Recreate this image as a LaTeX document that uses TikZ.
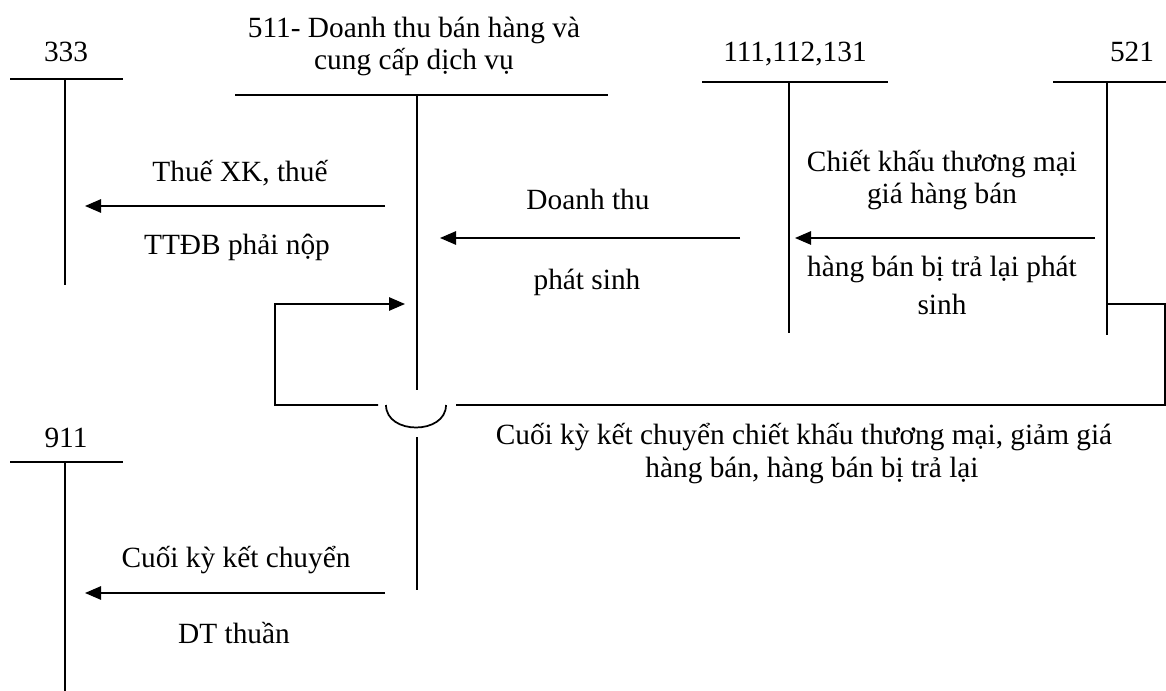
\documentclass[tikz,border=0pt]{standalone}
\usepackage{fontspec}
\setmainfont{Liberation Serif}
\usepackage{tikz}
\usetikzlibrary{arrows.meta,positioning,calc}

\begin{document}
\begin{tikzpicture}[
  x=0.75pt, y=-0.75pt,
  ledger/.style={line width=1.3pt},
  arrow/.style={-{Triangle[length=12pt, width=10pt]}, line width=1.3pt},
  lbl/.style={anchor=base, inner sep=0pt, font=\fontsize{22}{27}\selectfont}
]
\useasboundingbox (0,0) rectangle (1166,691);

% T-accounts
\draw[ledger] (10,79) -- (123,79);
\draw[ledger] (65,79) -- (65,285);
\draw[ledger] (235,95) -- (608,95);
\draw[ledger] (417,95) -- (417,390);
\draw[ledger] (417,437) -- (417,590);
\draw[ledger] (702,82) -- (888,82);
\draw[ledger] (789,82) -- (789,333);
\draw[ledger] (1053,82) -- (1166,82);
\draw[ledger] (1107,82) -- (1107,335);
\draw[ledger] (10,462) -- (123,462);
\draw[ledger] (65,462) -- (65,691);

% Account names
\node[lbl] (acc333) at (66,62) {333};
\node[lbl] (acc511a) at (414,38) {511- Doanh thu bán hàng và};
\node[lbl] (acc511b) at (414,70) {cung cấp dịch vụ};
\node[lbl] (acc111) at (795,62) {111,112,131};
\node[lbl] (acc521) at (1132,62) {521};
\node[lbl] (acc911) at (66,447) {911};

% Arrow ends
\coordinate (s511a) at (385,206);
\coordinate (e333) at (85,206);
\coordinate (s111) at (740,238);
\coordinate (e511a) at (440,238);
\coordinate (s521) at (1095,238);
\coordinate (e111) at (795,238);
\coordinate (s511b) at (385,593);
\coordinate (e911) at (85,593);
\coordinate (o521) at (1107,304);
\coordinate (e511b) at (405,304);

% Postings
\draw[arrow] (s511a) -- (e333);
\draw[arrow] (s111) -- (e511a);
\draw[arrow] (s521) -- (e111);
\draw[arrow] (s511b) -- (e911);

% Closing transfer 521 -> 511, jumping over the 511 line
\draw[arrow] (o521) -- (1165,304) -- (1165,405) -- (456,405)
  (446,405) .. controls (446,435) and (386,435) .. (386,405)
  (378,405) -- (275,405) -- (275,304) -- (e511b);

% Posting texts
\node[lbl] (tax1) at (240,182) {Thuế XK, thuế};
\node[lbl] (tax2) at (237,255) {TTĐB phải nộp};
\node[lbl] (rev1) at (588,210) {Doanh thu};
\node[lbl] (rev2) at (587,290) {phát sinh};
\node[lbl] (ded1) at (942,172) {Chiết khấu thương mại};
\node[lbl] (ded2) at (942,204) {giá hàng bán};
\node[lbl] (ded3) at (942,277) {hàng bán bị trả lại phát};
\node[lbl] (ded4) at (942,315) {sinh};
\node[lbl] (close1) at (804,444) {Cuối kỳ kết chuyển chiết khấu thương mại, giảm giá};
\node[lbl] (close2) at (812,477) {hàng bán, hàng bán bị trả lại};
\node[lbl] (net1) at (236,567) {Cuối kỳ kết chuyển};
\node[lbl] (net2) at (234,643) {DT thuần};

\end{tikzpicture}
\end{document}
